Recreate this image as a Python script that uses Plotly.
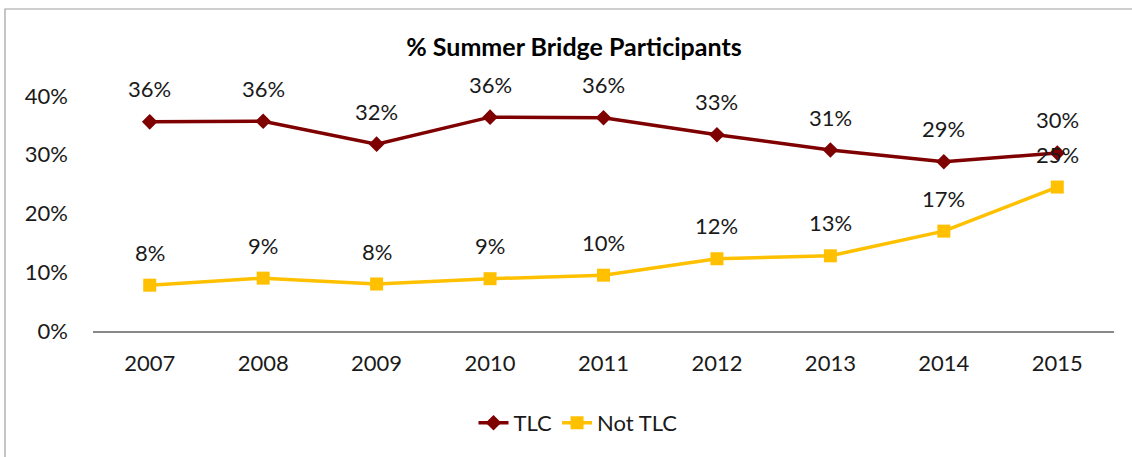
import plotly.graph_objects as go

years = ['2007', '2008', '2009', '2010', '2011', '2012', '2013', '2014', '2015']
tlc = [0.356, 0.357, 0.318, 0.364, 0.363, 0.334, 0.308, 0.288, 0.303]
not_tlc = [0.078, 0.090, 0.080, 0.089, 0.095, 0.123, 0.128, 0.170, 0.245]
tlc_labels = ['36%', '36%', '32%', '36%', '36%', '33%', '31%', '29%', '30%']
not_tlc_labels = ['8%', '9%', '8%', '9%', '10%', '12%', '13%', '17%', '25%']

font = 'Lato, Open Sans, sans-serif'
fs = 22

fig = go.Figure()
fig.add_trace(go.Scatter(
    x=years, y=tlc, name='TLC', mode='lines+markers',
    line=dict(color='#7F0000', width=3.5),
    marker=dict(symbol='diamond', size=12, color='#7F0000'),
    cliponaxis=False,
))
fig.add_trace(go.Scatter(
    x=years, y=not_tlc, name='Not TLC', mode='lines+markers',
    line=dict(color='#FFC000', width=3.5),
    marker=dict(symbol='square', size=13, color='#FFC000'),
    cliponaxis=False,
))

# data labels sit well above each point, like the Excel original
annotations = []
for ys, labels in [(tlc, tlc_labels), (not_tlc, not_tlc_labels)]:
    for i, (y, t) in enumerate(zip(ys, labels)):
        annotations.append(dict(x=i, y=y, xref='x', yref='y', text=t, showarrow=False,
                                yshift=33, font=dict(size=fs, color='#1a1a1a', family=font)))

fig.update_layout(
    width=1132, height=457,
    margin=dict(l=93, r=18, t=96, b=126, autoexpand=False),
    paper_bgcolor='white', plot_bgcolor='white',
    font=dict(family=font, size=fs, color='#1a1a1a'),
    title=dict(text='<b>% Summer Bridge Participants</b>', x=574 / 1132, xref='container',
               xanchor='center', y=1 - 47 / 457, yanchor='middle',
               font=dict(size=25, color='#000000', family=font)),
    showlegend=True,
    legend=dict(orientation='h', x=(578 - 93) / 1021, xanchor='center',
                y=(331 - 423) / 235, yanchor='middle',
                font=dict(size=fs, family=font), traceorder='normal'),
    xaxis=dict(type='category', range=[-0.5, 8.5], showgrid=False, automargin=False,
               showline=True, linecolor='#888888', linewidth=1.5, ticks='',
               ticklabelstandoff=12, tickfont=dict(size=fs, family=font)),
    yaxis=dict(range=[0, 0.40], tickvals=[0, 0.1, 0.2, 0.3, 0.4], tickformat='.0%',
               showgrid=False, zeroline=False, showline=False, ticks='', automargin=False,
               ticklabelstandoff=24, tickfont=dict(size=fs, family=font)),
    annotations=annotations,
    shapes=[dict(type='rect', xref='paper', yref='paper',
                 x0=(5 - 93) / 1021, x1=1.2, y0=-1, y1=(331 - 9) / 235,
                 line=dict(color='#A0A0A0', width=1.2), layer='below')],
)

fig.write_html('out.html', config={'displayModeBar': False},
               post_script="document.body.style.margin='0';")
